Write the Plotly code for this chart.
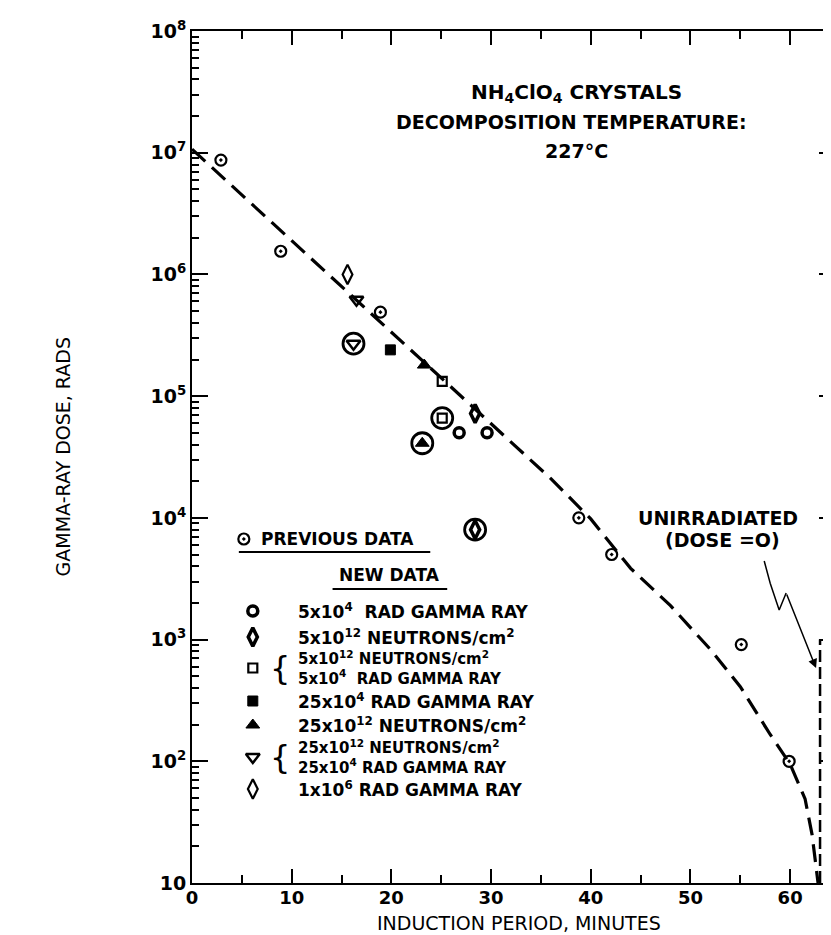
import math
import plotly.graph_objects as go

# ---------------- data ----------------
prev_x = [2.9, 8.9, 18.9, 38.8, 42.1, 55.1, 59.9]
prev_y = [8.7e6, 1.55e6, 4.9e5, 1.0e4, 5.0e3, 910, 100]

g5e4_x = [26.8, 29.6]
g5e4_y = [5.0e4, 5.0e4]

n5e12_x = [28.4, 28.4]
n5e12_y = [7.2e4, 8.0e3]

n5e12_g5e4_x = [25.1, 25.1]
n5e12_g5e4_y = [1.32e5, 6.6e4]

g25e4_x = [19.9]
g25e4_y = [2.4e5]

n25e12_x = [23.3, 23.1]
n25e12_y = [1.8e5, 4.1e4]

n25e12_g25e4_x = [16.5, 16.2]
n25e12_g25e4_y = [6.2e5, 2.7e5]

g1e6_x = [15.6]
g1e6_y = [1.0e6]

circled_x = [16.2, 25.1, 23.1, 28.4]
circled_y = [2.7e5, 6.6e4, 4.1e4, 8.0e3]

curve_x = [0, 10, 20, 30, 36, 40, 44, 48, 52, 55, 58, 60, 61.5, 62.2, 62.6, 62.8]
curve_y = [1.07e7, 1.9e6, 3.35e5, 5.9e4, 2.1e4, 9.8e3, 3.85e3, 1.9e3, 830, 410,
           166, 95, 49, 25, 13, 10]

unirr_x = [63.0, 63.0]
unirr_y = [10, 1000]

arrow_x = [57.4, 58.0, 58.9, 59.6]
arrow_y = [4420, 2900, 1750, 2410]
arrow_head = (62.6, 583)

x_tick_vals = [0, 10, 20, 30, 40, 50, 60]
y_tick_vals = [10, 1e2, 1e3, 1e4, 1e5, 1e6, 1e7, 1e8]
y_tick_text = ["10", "10<sup>2</sup>", "10<sup>3</sup>", "10<sup>4</sup>",
               "10<sup>5</sup>", "10<sup>6</sup>", "10<sup>7</sup>", "10<sup>8</sup>"]

legend_labels = [
    ["5x10<sup>4</sup>  RAD GAMMA RAY"],
    ["5x10<sup>12</sup> NEUTRONS/cm<sup>2</sup>"],
    ["5x10<sup>12</sup> NEUTRONS/cm<sup>2</sup>", "5x10<sup>4</sup>  RAD GAMMA RAY"],
    ["25x10<sup>4</sup> RAD GAMMA RAY"],
    ["25x10<sup>12</sup> NEUTRONS/cm<sup>2</sup>"],
    ["25x10<sup>12</sup> NEUTRONS/cm<sup>2</sup>", "25x10<sup>4</sup> RAD GAMMA RAY"],
    ["1x10<sup>6</sup> RAD GAMMA RAY"],
]

FONT = "DejaVu Sans"
K = "black"
W, H = 831, 935
L, R, T, B = 184, 2, 23, 60

# legend layout (pixel positions in the page)
LEG_ROW_Y = [603, 629, 660, 693, 717, 749, 781]
LEG_SYM_X, LEG_TXT_X, LEG_BRACE_X = 245, 288, 272

markers = [
    dict(symbol="circle-open", size=10, color=K, line=dict(width=3.5, color=K)),
    dict(symbol="diamond-tall-open", size=13, color=K, line=dict(width=3.5, color=K)),
    dict(symbol="square-open", size=9, color=K, line=dict(width=2.2, color=K)),
    dict(symbol="square", size=10, color=K, line=dict(width=1, color=K)),
    dict(symbol="triangle-up", size=12, color=K, line=dict(width=1, color=K)),
    dict(symbol="triangle-down-open", size=12, color=K, line=dict(width=2.5, color=K)),
    dict(symbol="diamond-tall-open", size=14, color=K, line=dict(width=2.2, color=K)),
]
prev_marker = dict(symbol="circle-open-dot", size=11, color=K, line=dict(width=2.2, color=K))
series = [(g5e4_x, g5e4_y), (n5e12_x, n5e12_y), (n5e12_g5e4_x, n5e12_g5e4_y),
          (g25e4_x, g25e4_y), (n25e12_x, n25e12_y), (n25e12_g25e4_x, n25e12_g25e4_y),
          (g1e6_x, g1e6_y)]

fig = go.Figure()

fig.add_trace(go.Scatter(x=curve_x, y=curve_y, mode="lines", showlegend=False,
                         line=dict(color=K, width=3.2, dash="18px,9px"), hoverinfo="skip"))
fig.add_trace(go.Scatter(x=unirr_x, y=unirr_y, mode="lines", showlegend=False,
                         line=dict(color=K, width=2.5, dash="12px,5px"), hoverinfo="skip"))
fig.add_trace(go.Scatter(x=arrow_x, y=arrow_y, mode="lines", showlegend=False,
                         line=dict(color=K, width=1.5), hoverinfo="skip"))
fig.add_trace(go.Scatter(x=circled_x, y=circled_y, mode="markers", showlegend=False,
                         marker=dict(symbol="circle-open", size=21, color=K, line=dict(width=2.8, color=K))))
fig.add_trace(go.Scatter(x=prev_x, y=prev_y, mode="markers", showlegend=False, marker=prev_marker))
for (xs, ys), mk, lab in zip(series, markers, legend_labels):
    fig.add_trace(go.Scatter(x=xs, y=ys, mode="markers", showlegend=False, marker=mk,
                             name=" ".join(lab)))

# ---- hand-built key on a pixel overlay axis ----
fig.add_trace(go.Scatter(x=[236], y=[531], xaxis="x2", yaxis="y2", mode="markers",
                         showlegend=False, marker=prev_marker, hoverinfo="skip"))
for mk, ry in zip(markers, LEG_ROW_Y):
    fig.add_trace(go.Scatter(x=[LEG_SYM_X], y=[ry], xaxis="x2", yaxis="y2", mode="markers",
                             showlegend=False, marker=mk, hoverinfo="skip"))

annotations = []


def text(t, x, y, size=17, bold=True, xanchor="center"):
    annotations.append(dict(text=("<b>%s</b>" % t) if bold else t, x=x, y=y,
                            xref="x2", yref="y2", showarrow=False, align="left",
                            font=dict(family=FONT, size=size, color=K),
                            xanchor=xanchor, yanchor="middle"))


text("PREVIOUS DATA", 251, 531, xanchor="left")
text("NEW DATA", 382, 567)
for labs, ry in zip(legend_labels, LEG_ROW_Y):
    if len(labs) == 1:
        text(labs[0], LEG_TXT_X, ry, xanchor="left")
    else:
        text("<br>".join(labs), LEG_TXT_X, ry, size=15, xanchor="left")
        annotations.append(dict(text="{", x=LEG_BRACE_X, y=ry, xref="x2", yref="y2", showarrow=False,
                                font=dict(family="DejaVu Sans", size=32, color=K),
                                xanchor="center", yanchor="middle"))

text("NH<sub>4</sub>ClO<sub>4</sub> CRYSTALS", 570, 85, size=20)
text("DECOMPOSITION TEMPERATURE:", 565, 114, size=19)
text("227°C", 570, 143, size=19)
text("UNIRRADIATED", 712, 510, size=19)
text("(DOSE =O)", 716, 532, size=19)

# axis titles
annotations.append(dict(text="GAMMA-RAY DOSE, RADS", x=(55 - L) / (W - L - R), y=0.5,
                        xref="paper", yref="paper", showarrow=False, textangle=-90,
                        font=dict(family=FONT, size=19, color=K), xanchor="center", yanchor="middle"))
annotations.append(dict(text="INDUCTION PERIOD, MINUTES", x=(512 - L) / (W - L - R),
                        y=-(915 - (H - B)) / (H - T - B),
                        xref="paper", yref="paper", showarrow=False,
                        font=dict(family=FONT, size=19, color=K), xanchor="center", yanchor="middle"))

# arrow head of the "unirradiated" pointer
annotations.append(dict(x=arrow_head[0], y=math.log10(arrow_head[1]), xref="x", yref="y",
                        ax=arrow_x[-1], ay=math.log10(arrow_y[-1]), axref="x", ayref="y",
                        showarrow=True, arrowhead=2, arrowsize=1.2, arrowwidth=1.5, arrowcolor=K, text=""))

shapes = [
    dict(type="line", xref="x2", yref="y2", x0=231, x1=423, y0=544, y1=544, line=dict(color=K, width=2.2)),
    dict(type="line", xref="x2", yref="y2", x0=325, x1=440, y0=581, y1=581, line=dict(color=K, width=2.2)),
]

fig.update_layout(
    width=W, height=H,
    margin=dict(l=L, r=R, t=T, b=B),
    plot_bgcolor="white", paper_bgcolor="white",
    font=dict(family=FONT, size=18, color=K),
    annotations=annotations, shapes=shapes, showlegend=False,
    xaxis2=dict(overlaying="x", range=[L, W - R], visible=False, fixedrange=True),
    yaxis2=dict(overlaying="y", range=[H - B, T], visible=False, fixedrange=True),
)

fig.update_layout(xaxis=dict(
    range=[0, 64.5], tickmode="array", tickvals=x_tick_vals,
    ticks="inside", ticklen=14, tickwidth=2, tickcolor=K,
    showline=True, linewidth=2, linecolor=K, mirror="allticks",
    showgrid=False, zeroline=False, ticklabelstandoff=-3,
    minor=dict(ticks="inside", ticklen=8, tickwidth=2, tickcolor=K, dtick=5, showgrid=False),
    tickfont=dict(family=FONT, size=18, color=K, weight="bold")))
fig.update_layout(yaxis=dict(
    type="log", range=[1, 8], tickmode="array", tickvals=y_tick_vals, ticktext=y_tick_text,
    ticks="inside", ticklen=16, tickwidth=2, tickcolor=K,
    showline=True, linewidth=2, linecolor=K, mirror="allticks",
    showgrid=False, zeroline=False,
    minor=dict(ticks="inside", ticklen=7, tickwidth=1.5, tickcolor=K, dtick="D1", showgrid=False),
    tickfont=dict(family=FONT, size=19, color=K, weight="bold")))

fig.write_html("out.html")
